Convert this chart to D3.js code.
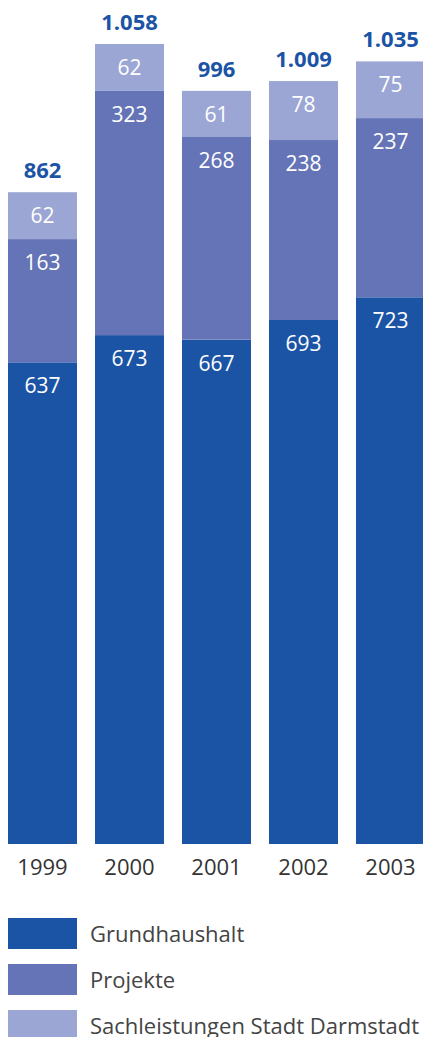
<!DOCTYPE html>
<html>
<head>
<meta charset="utf-8">
<script src="https://cdn.jsdelivr.net/npm/d3@7"></script>
<style>
  html, body { margin: 0; padding: 0; background: #fff; }
  svg { display: block; font-family: "Open Sans", "Noto Sans", sans-serif; }
</style>
</head>
<body>
<div id="chart"></div>
<script>
const years = ['1999', '2000', '2001', '2002', '2003'];
const grundhaushalt = [637, 673, 667, 693, 723];
const projekte = [163, 323, 268, 238, 237];
const sachleistungen = [62, 62, 61, 78, 75];
const totalLabels = ['862', '1.058', '996', '1.009', '1.035'];
const seriesNames = ['Grundhaushalt', 'Projekte', 'Sachleistungen Stadt Darmstadt'];
const colors = ['#1b54a5', '#6574b7', '#9ba6d4'];

const width = 423;
const height = 1037;

const svg = d3.select('#chart').append('svg')
  .attr('width', width)
  .attr('height', height);

const table = years.map((y, i) => ({
  year: y,
  Grundhaushalt: grundhaushalt[i],
  Projekte: projekte[i],
  'Sachleistungen Stadt Darmstadt': sachleistungen[i],
  total: totalLabels[i],
}));

const stack = d3.stack().keys(seriesNames);
const layers = stack(table);

const x = d3.scaleBand()
  .domain(years)
  .range([8, 425])
  .paddingInner(18 / 87)
  .paddingOuter(0);

const maxTotal = d3.max(layers[layers.length - 1], (d) => d[1]);
const y = d3.scaleLinear()
  .domain([0, maxTotal])
  .range([844, 44]);

const layerG = svg.selectAll('g.layer')
  .data(layers)
  .enter()
  .append('g')
  .attr('class', 'layer')
  .attr('fill', (d, i) => colors[i]);

layerG.selectAll('rect')
  .data((d) => d)
  .enter()
  .append('rect')
  .attr('x', (d) => x(d.data.year))
  .attr('y', (d) => y(d[1]))
  .attr('width', x.bandwidth())
  .attr('height', (d) => y(d[0]) - y(d[1]));

// segment values
layerG.selectAll('text')
  .data((d) => d)
  .enter()
  .append('text')
  .attr('x', (d) => x(d.data.year) + x.bandwidth() / 2)
  .attr('y', (d) => y(d[1]) + 31)
  .attr('text-anchor', 'middle')
  .attr('fill', '#fff')
  .attr('font-size', 21)
  .text((d) => d[1] - d[0]);

// totals
svg.append('g')
  .selectAll('text')
  .data(layers[layers.length - 1])
  .enter()
  .append('text')
  .attr('x', (d) => x(d.data.year) + x.bandwidth() / 2)
  .attr('y', (d) => y(d[1]) - 14)
  .attr('text-anchor', 'middle')
  .attr('fill', '#1b54a5')
  .attr('font-size', 22)
  .attr('font-weight', 'bold')
  .text((d) => d.data.total);

// x axis
const xAxis = d3.axisBottom(x).tickSize(0).tickPadding(0);
const axisG = svg.append('g')
  .attr('class', 'x axis')
  .attr('transform', `translate(0, ${y(0)})`)
  .call(xAxis);
axisG.select('.domain').remove();
axisG.selectAll('text')
  .attr('y', 31)
  .attr('dy', 0)
  .attr('fill', '#333')
  .attr('font-size', 22)
  .attr('font-family', '"Open Sans", "Noto Sans", sans-serif');

// legend
const legend = svg.append('g')
  .selectAll('g')
  .data(seriesNames)
  .enter()
  .append('g')
  .attr('transform', (d, i) => `translate(8, ${918 + i * 46})`);

legend.append('rect')
  .attr('width', 69)
  .attr('height', 31)
  .attr('fill', (d, i) => colors[i]);

legend.append('text')
  .attr('x', 82)
  .attr('y', 24)
  .attr('fill', '#444')
  .attr('font-size', 22)
  .text((d) => d);
</script>
</body>
</html>
